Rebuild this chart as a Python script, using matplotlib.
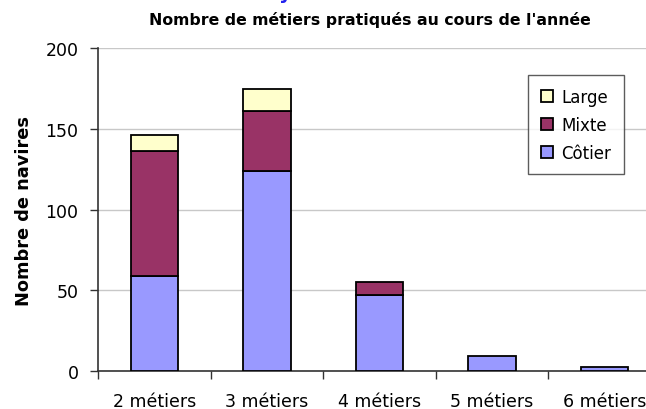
import numpy as np
from matplotlib import pyplot as plt

plt.rcParams["font.family"] = ["DejaVu Sans"]

categories = ["2 métiers", "3 métiers", "4 métiers", "5 métiers", "6 métiers"]
cotier = [59, 124, 47, 9, 2]
mixte = [77, 37, 8, 0, 0]
large = [10, 14, 0, 0, 0]

colors = {"Côtier": "#9999FF", "Mixte": "#993366", "Large": "#FFFFCC"}

fig = plt.figure(figsize=(6.46, 4.10), dpi=100)
ax = fig.add_axes([98 / 646, 38.3 / 410, 563 / 646, 322.4 / 410])

x = np.arange(len(categories))
w = 0.42
bottom = np.zeros(len(categories))
handles = {}
for name, vals in [("Côtier", cotier), ("Mixte", mixte), ("Large", large)]:
    vals = np.array(vals, dtype=float)
    keep = vals > 0
    bars = ax.bar(x[keep], vals[keep], w, bottom=bottom[keep], color=colors[name],
                  edgecolor="black", linewidth=1.3, label=name, zorder=3)
    handles[name] = bars
    bottom += vals

ax.set_xlim(-0.5, len(categories) - 0.5)
ax.set_ylim(0, 200)
ax.set_yticks([0, 50, 100, 150, 200])
ax.yaxis.grid(True, color="#c8c8c8", lw=1)
ax.set_axisbelow(True)

ax.set_xticks(x)
ax.set_xticklabels(categories, fontsize=12.5)
ax.tick_params(axis="x", which="major", length=0, pad=15)
ax.set_xticks(np.arange(-0.5, len(categories)), minor=True)
ax.tick_params(axis="x", which="minor", length=6, width=1, color="#333333")
ax.tick_params(axis="y", length=6, width=1, color="#333333", labelsize=12.5, pad=8)

for s in ("top", "right"):
    ax.spines[s].set_visible(False)
for s in ("left", "bottom"):
    ax.spines[s].set_color("#333333")
    ax.spines[s].set_linewidth(1.2)

ax.set_ylabel("Nombre de navires", fontsize=12.8, fontweight="bold", labelpad=9)

# legend lists the stack top-down
leg = ax.legend([handles["Large"], handles["Mixte"], handles["Côtier"]],
                ["Large", "Mixte", "Côtier"], loc="upper left",
                bbox_to_anchor=(430 / 563, 1 - 27 / 322.4), fontsize=12,
                frameon=True, fancybox=False, edgecolor="#333333",
                handlelength=0.75, handleheight=0.75, handletextpad=0.5,
                labelspacing=0.6, borderpad=0.75, borderaxespad=0)
leg.get_frame().set_linewidth(1)

fig.text(370 / 646, 1 - 20 / 410, "Nombre de métiers pratiqués au cours de l'année",
         ha="center", va="center", fontsize=11.3, fontweight="bold")
fig.text(285 / 646, 1 + 1 / 410, "y", ha="center", va="baseline",
         fontsize=14, fontweight="bold", color="#2222EE")

fig.savefig("out.png", dpi=100)
